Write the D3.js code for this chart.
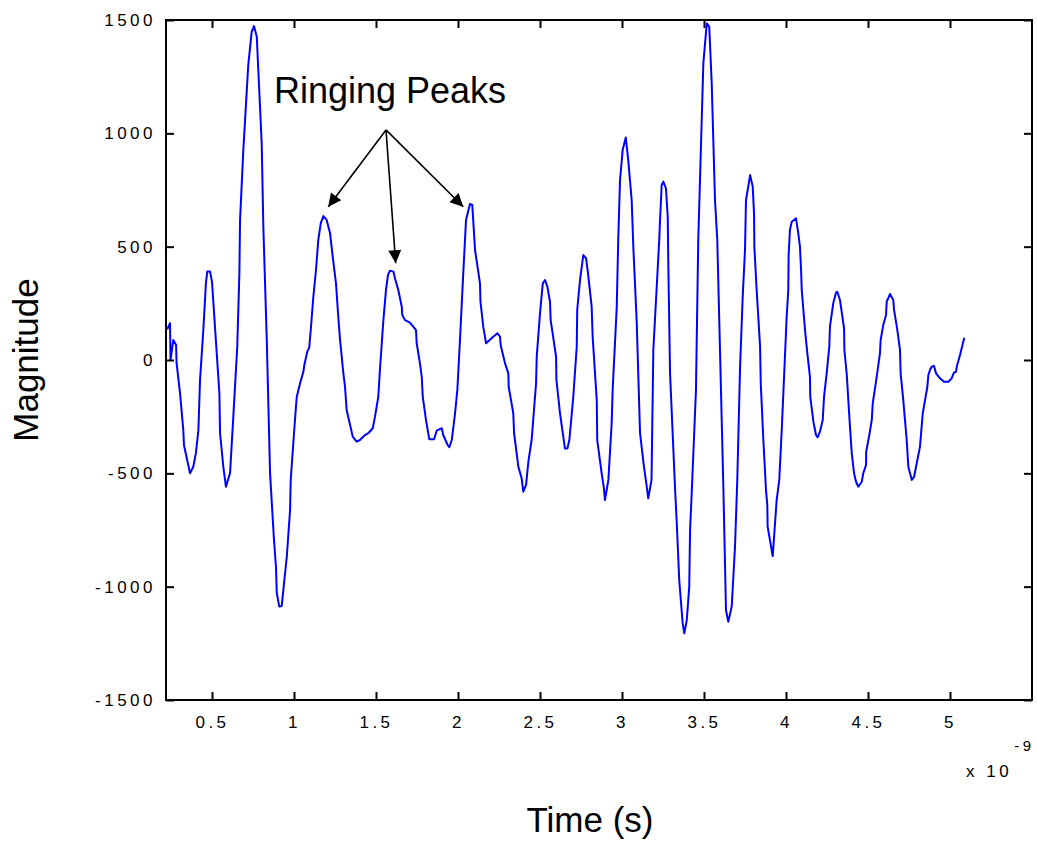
<!DOCTYPE html>
<html>
<head>
<meta charset="utf-8">
<script src="https://cdn.jsdelivr.net/npm/d3@7"></script>
<style>
  body { margin: 0; background: #fff; }
  text { font-family: Arial, "Liberation Sans", sans-serif; }
</style>
</head>
<body>
<div id="chart"></div>
<script>
// time axis (units of 1e-9 s)
var timeVals = [0.227,0.244,0.247,0.264,0.281,0.284,0.305,0.325,0.329,0.366,0.386,0.402,0.417,0.427,0.447,0.463,0.471,0.488,0.500,0.518,0.545,0.549,0.569,0.585,0.610,0.630,0.654,0.667,0.671,0.691,0.721,0.742,0.756,0.773,0.803,0.813,0.834,0.854,0.878,0.890,0.895,0.910,0.925,0.931,0.956,0.976,0.980,1.000,1.012,1.017,1.037,1.057,1.063,1.081,1.093,1.102,1.118,1.134,1.148,1.163,1.179,1.199,1.220,1.236,1.256,1.270,1.281,1.301,1.311,1.321,1.342,1.358,1.382,1.402,1.433,1.453,1.480,1.494,1.514,1.524,1.545,1.561,1.573,1.585,1.606,1.616,1.636,1.657,1.660,1.677,1.707,1.727,1.744,1.748,1.768,1.779,1.785,1.805,1.825,1.854,1.870,1.901,1.910,1.937,1.947,1.962,1.982,1.996,2.012,2.032,2.049,2.073,2.087,2.104,2.134,2.137,2.154,2.171,2.215,2.240,2.256,2.260,2.287,2.307,2.309,2.337,2.342,2.368,2.388,2.398,2.415,2.429,2.449,2.476,2.480,2.500,2.517,2.531,2.545,2.561,2.565,2.598,2.600,2.622,2.642,2.652,2.667,2.679,2.703,2.724,2.727,2.744,2.764,2.781,2.795,2.815,2.821,2.846,2.849,2.876,2.890,2.896,2.917,2.937,2.943,2.968,2.977,2.988,3.004,3.023,3.038,3.059,3.069,3.090,3.110,3.134,3.151,3.160,3.180,3.191,3.227,3.232,3.242,3.252,3.268,3.279,3.282,3.293,3.323,3.334,3.349,3.370,3.380,3.395,3.410,3.415,3.425,3.451,3.465,3.496,3.517,3.532,3.547,3.567,3.581,3.618,3.634,3.648,3.669,3.689,3.703,3.720,3.736,3.750,3.756,3.770,3.781,3.797,3.805,3.807,3.821,3.842,3.846,3.862,3.878,3.886,3.888,3.919,3.943,3.959,3.974,3.990,4.004,4.014,4.016,4.024,4.035,4.061,4.075,4.085,4.092,4.096,4.116,4.130,4.146,4.148,4.167,4.183,4.193,4.207,4.224,4.232,4.248,4.264,4.268,4.288,4.305,4.313,4.329,4.354,4.356,4.370,4.390,4.401,4.415,4.427,4.441,4.462,4.471,4.488,4.489,4.508,4.523,4.529,4.553,4.573,4.577,4.593,4.610,4.614,4.634,4.654,4.659,4.679,4.695,4.699,4.715,4.736,4.746,4.767,4.781,4.801,4.817,4.827,4.834,4.848,4.862,4.868,4.878,4.888,4.902,4.915,4.939,4.963,4.990,5.010,5.024,5.037,5.041,5.061,5.087];
var magVals = [135,162,0,88,66,-13,-146,-309,-375,-500,-471,-410,-309,-88,132,340,390,390,345,147,-146,-322,-471,-559,-499,-250,59,384,618,926,1301,1448,1473,1426,956,588,88,-499,-794,-912,-1028,-1088,-1085,-1044,-868,-662,-529,-323,-206,-162,-103,-52,-22,37,56,132,279,397,529,603,635,618,559,456,338,191,88,-59,-118,-221,-287,-338,-360,-353,-331,-323,-301,-250,-162,-44,176,309,375,394,390,360,309,235,199,176,165,147,132,74,-15,-74,-162,-265,-350,-350,-312,-301,-331,-375,-385,-353,-235,-132,88,382,618,688,684,485,338,257,147,74,103,118,103,66,-15,-59,-118,-235,-323,-471,-522,-581,-551,-449,-353,-103,15,206,338,353,323,257,176,15,-88,-235,-338,-390,-390,-353,-162,59,221,353,463,449,368,235,103,-176,-353,-500,-566,-618,-529,-279,-132,235,529,794,926,982,882,706,500,162,-323,-471,-559,-610,-529,44,529,618,772,787,757,632,441,-59,-559,-720,-971,-1162,-1206,-1147,-1000,-750,-588,-132,529,1309,1485,1470,1221,706,529,-559,-1103,-1155,-1088,-824,-529,-29,279,485,706,765,816,765,647,500,309,59,-103,-353,-574,-640,-735,-865,-618,-529,-309,-44,191,309,463,574,610,625,559,500,397,309,132,30,-74,-162,-272,-331,-341,-316,-265,-162,-59,59,147,250,297,301,265,140,44,-59,-294,-412,-500,-537,-559,-537,-500,-463,-405,-331,-265,-191,-74,30,88,154,199,257,291,265,221,132,44,-59,-176,-353,-471,-529,-515,-441,-382,-294,-235,-176,-118,-66,-44,-30,-26,-59,-81,-96,-96,-81,-56,-52,-30,22,98];

var xTicks = [0.5, 1, 1.5, 2, 2.5, 3, 3.5, 4, 4.5, 5];
var yTicks = [-1500, -1000, -500, 0, 500, 1000, 1500];

// annotation: label and arrow tips, in data units
var noteText = "Ringing Peaks";
var noteAt = [0.878, 1134];
var arrowFrom = [1.561, 1015];
var arrowTips = [[1.209, 676], [1.620, 427], [2.032, 676]];

var W = 1037, H = 841;
var margin = {top: 20, right: 5, bottom: 141, left: 166};
var width = W - margin.left - margin.right;
var height = H - margin.top - margin.bottom;

var svg = d3.select("#chart").append("svg")
  .attr("width", W)
  .attr("height", H);

var g = svg.append("g")
  .attr("transform", "translate(" + margin.left + "," + margin.top + ")");

var x = d3.scaleLinear().domain([0.2195, 5.5]).range([0, width]);
var y = d3.scaleLinear().domain([-1500, 1500]).range([height, 0]);

// the curve
var line = d3.line()
  .x(function(d, i) { return x(timeVals[i]); })
  .y(function(d) { return y(d); });

g.append("path")
  .attr("d", line(magVals))
  .attr("fill", "none")
  .attr("stroke", "#0000ff")
  .attr("stroke-width", 2)
  .attr("stroke-linejoin", "round");

// axes, MATLAB style: ticks pointing in, box on all sides
var tickLen = 8;
g.append("g")
  .attr("transform", "translate(0," + height + ")")
  .call(d3.axisBottom(x).tickValues(xTicks).tickSizeInner(-tickLen).tickSizeOuter(0).tickPadding(16)
    .tickFormat(function(d) { return String(d); }))
  .call(function(a) { a.select(".domain").remove(); });

g.append("g")
  .call(d3.axisTop(x).tickValues(xTicks).tickSizeInner(-tickLen).tickSizeOuter(0).tickFormat(""))
  .call(function(a) { a.select(".domain").remove(); });

g.append("g")
  .call(d3.axisLeft(y).tickValues(yTicks).tickSizeInner(-tickLen).tickSizeOuter(0).tickPadding(10)
    .tickFormat(function(d) { return String(d); }))
  .call(function(a) { a.select(".domain").remove(); });

g.append("g")
  .attr("transform", "translate(" + width + ",0)")
  .call(d3.axisRight(y).tickValues(yTicks).tickSizeInner(-tickLen).tickSizeOuter(0).tickFormat(""))
  .call(function(a) { a.select(".domain").remove(); });

g.selectAll(".tick line").attr("stroke", "#000").attr("stroke-width", 2);
g.selectAll(".tick text")
  .attr("fill", "#000")
  .style("font-size", "17px")
  .style("letter-spacing", "3.5px");

g.append("rect")
  .attr("width", width)
  .attr("height", height)
  .attr("fill", "none")
  .attr("stroke", "#000")
  .attr("stroke-width", 2);

// exponent
var ex = svg.append("text")
  .attr("x", 966)
  .attr("y", 777)
  .style("font-size", "17px")
  .style("letter-spacing", "3.5px");
ex.append("tspan").text("x 10");
ex.append("tspan").attr("dy", -26).attr("dx", 2).style("font-size", "15px").text("-9");

// axis titles
svg.append("text")
  .attr("x", 590)
  .attr("y", 832)
  .attr("text-anchor", "middle")
  .style("font-size", "35px")
  .text("Time (s)");

svg.append("text")
  .attr("transform", "translate(38," + (margin.top + y(0)) + ") rotate(-90)")
  .attr("text-anchor", "middle")
  .style("font-size", "35px")
  .text("Magnitude");

// annotation
svg.append("defs").append("marker")
  .attr("id", "head")
  .attr("viewBox", "0 0 10 10")
  .attr("refX", 10).attr("refY", 5)
  .attr("markerWidth", 16).attr("markerHeight", 13)
  .attr("markerUnits", "userSpaceOnUse")
  .attr("orient", "auto")
  .append("path")
  .attr("d", "M0,0 L10,5 L0,10 z")
  .attr("fill", "#000");

g.selectAll(".arrow")
  .data(arrowTips)
  .enter().append("line")
  .attr("class", "arrow")
  .attr("x1", x(arrowFrom[0]))
  .attr("y1", y(arrowFrom[1]))
  .attr("x2", function(d) { return x(d[0]); })
  .attr("y2", function(d) { return y(d[1]); })
  .attr("stroke", "#000")
  .attr("stroke-width", 1.6)
  .attr("marker-end", "url(#head)");

g.append("text")
  .attr("x", x(noteAt[0]))
  .attr("y", y(noteAt[1]))
  .style("font-size", "36px")
  .text(noteText);
</script>
</body>
</html>
